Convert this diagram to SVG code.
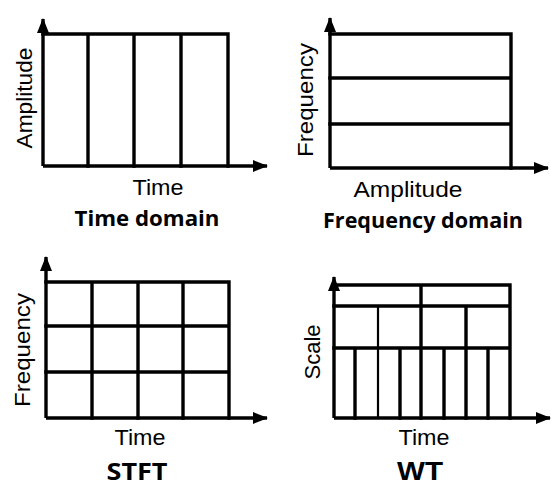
<svg xmlns="http://www.w3.org/2000/svg" width="551" height="487" viewBox="0 0 551 487">
  <style>
    .grid { fill: none; stroke: #000; stroke-width: 3.4; stroke-linecap: square; }
    .thin { fill: none; stroke: #000; stroke-width: 2.2; }
    .axis { fill: none; stroke: #000; stroke-width: 3.4; marker-end: url(#arrow); }
    .lab { font-family: "Liberation Sans", Arial, sans-serif; font-size: 22px; fill: #000; text-anchor: middle; }
    .title { font-family: "Open Sans", "Noto Sans", sans-serif; font-weight: bold; font-size: 22px; fill: #000; text-anchor: middle; }
    .stft { font-family: "Open Sans", "Noto Sans", sans-serif; font-weight: bold; font-size: 24px; fill: #000; text-anchor: middle; }
    .big { font-family: "Liberation Sans", Arial, sans-serif; font-weight: bold; font-size: 26px; fill: #000; text-anchor: middle; }
  </style>
  <defs>
    <marker id="arrow" viewBox="0 0 15 12" refX="14" refY="6" markerWidth="15" markerHeight="12" markerUnits="userSpaceOnUse" orient="auto">
      <path d="M0,0 L15,6 L0,12 z" fill="#000"/>
    </marker>
  </defs>
  <rect width="551" height="487" fill="#fff"/>

  <!-- Time domain: four equal time slots -->
  <g id="time-domain">
    <path class="grid" d="M43,34 H228 V166 M88,34 V166 M134,34 V166 M181,34 V166"/>
    <text class="lab" transform="translate(32,98) rotate(-90)" textLength="101" lengthAdjust="spacingAndGlyphs">Amplitude</text>
    <text class="lab" x="158" y="195" textLength="51" lengthAdjust="spacingAndGlyphs">Time</text>
    <text class="title" x="147" y="226" textLength="145" lengthAdjust="spacingAndGlyphs">Time domain</text>
  </g>

  <!-- Frequency domain: three frequency bands -->
  <g id="frequency-domain">
    <path class="grid" d="M330,34 H511 V168 M330,78 H511 M330,124 H511"/>
    <text class="lab" transform="translate(313,100) rotate(-90)" textLength="114" lengthAdjust="spacingAndGlyphs">Frequency</text>
    <text class="lab" x="408" y="197" textLength="109" lengthAdjust="spacingAndGlyphs">Amplitude</text>
    <text class="title" x="423" y="228" textLength="200" lengthAdjust="spacingAndGlyphs">Frequency domain</text>
  </g>

  <!-- STFT: uniform time-frequency tiling -->
  <g id="stft">
    <path class="grid" d="M46,282 H229 V418 M46,326 H229 M46,372 H229 M92,282 V418 M138,282 V418 M183,282 V418"/>
    <text class="lab" transform="translate(30,350) rotate(-90)" textLength="114" lengthAdjust="spacingAndGlyphs">Frequency</text>
    <text class="lab" x="140" y="445" textLength="51" lengthAdjust="spacingAndGlyphs">Time</text>
    <text class="stft" x="137" y="480" textLength="61" lengthAdjust="spacingAndGlyphs">STFT</text>
  </g>

  <!-- WT: dyadic scale-time tiling -->
  <g id="wt">
    <path class="grid" d="M334,285 H510 V418 M334,306 H510 M334,348 H510 M421,285 V418 M466,306 V418 M355,348 V418 M400,348 V418 M444,348 V418 M488,348 V418"/>
    <path class="thin" d="M378,306 V418"/>
    <text class="lab" transform="translate(320,352) rotate(-90)" textLength="55" lengthAdjust="spacingAndGlyphs">Scale</text>
    <text class="lab" x="424" y="445" textLength="51" lengthAdjust="spacingAndGlyphs">Time</text>
    <text class="big" x="420" y="480" textLength="46" lengthAdjust="spacingAndGlyphs">WT</text>
  </g>

  <!-- axes -->
  <g id="axes">
    <path class="axis" d="M43,166 V19"/>
    <path class="axis" d="M43,166 H267"/>
    <path class="axis" d="M330,168 V18"/>
    <path class="axis" d="M330,168 H548"/>
    <path class="axis" d="M46,418 V257"/>
    <path class="axis" d="M46,418 H267"/>
    <path class="axis" d="M334,418 V277"/>
    <path class="axis" d="M334,418 H550"/>
  </g>
</svg>
